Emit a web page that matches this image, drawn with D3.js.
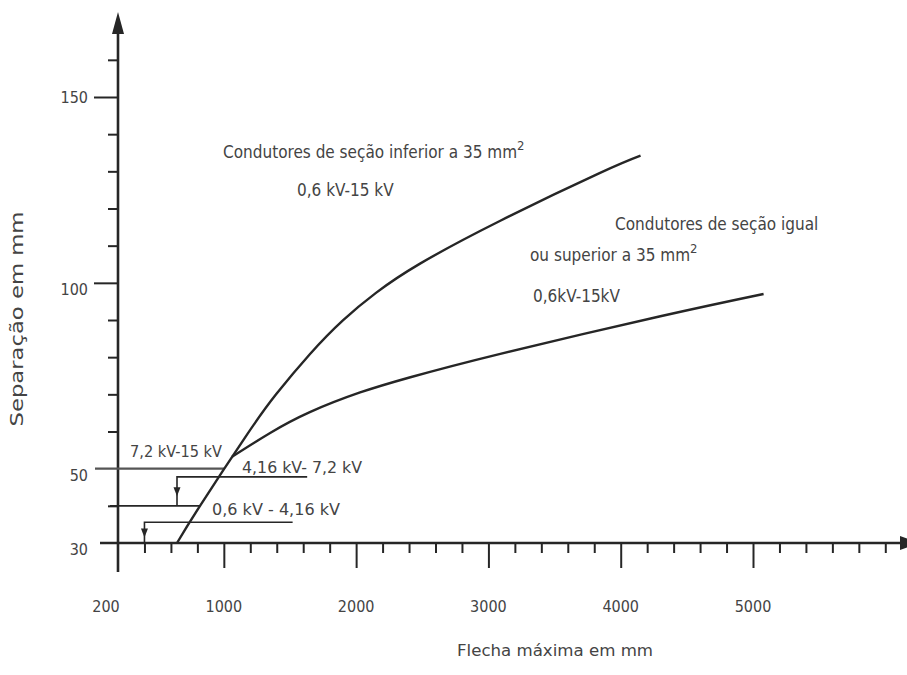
<!DOCTYPE html>
<html>
<head>
<meta charset="utf-8">
<script src="https://cdn.jsdelivr.net/npm/d3@7"></script>
<style>
body { margin: 0; background: #fff; }
svg text { font-family: "DejaVu Sans Condensed", "DejaVu Sans", sans-serif; fill: #444; }
</style>
</head>
<body>
<svg id="chart" width="907" height="675"></svg>
<script>
/* Data */

// curve for conductors below 35 mm2 (flecha mm, separação mm)
const curve1X = [646, 820, 1170, 1395, 1650, 1900, 2150, 2480, 3090, 3840, 4150];
const curve1Y = [30, 40, 58.9, 70, 80.8, 89.9, 97.3, 105.1, 116.7, 129.5, 134.2];

// curve for conductors equal to or above 35 mm2
const curve2X = [1062, 1350, 1650, 2030, 2410, 3090, 4300, 5080];
const curve2Y = [53.2, 59.6, 65.2, 70.5, 74.6, 80.9, 91, 97];

const xLabelValues = [200, 1000, 2000, 3000, 4000, 5000];
const xLabelText = ["200", "1000", "2000", "3000", "4000", "5000"];
const xMajorTicks = [1000, 2000, 3000, 4000, 5000];
const xMinorTicks = [400, 600, 800, 1200, 1400, 1600, 1800, 2200, 2400, 2600, 2800,
    3200, 3400, 3600, 3800, 4200, 4400, 4600, 4800, 5200, 5400, 5600, 5800, 6000];

const yLabelValues = [150, 100, 50, 30];
const yMajorTicks = [100, 150];
const yMinorTicks = [40, 60, 70, 80, 90, 110, 120, 130, 140, 160];

const levelValues = [50, 40, 30];
const levelLabels = ["7,2 kV-15 kV", "4,16 kV- 7,2 kV", "0,6 kV - 4,16 kV"];

const INK = "#262626";

const svg = d3.select("#chart");
const x = d3.scaleLinear().domain([200, 5000]).range([118, 753]);
const y = d3.scaleLinear().domain([30, 150]).range([543, 97]);

//finds where the first curve crosses a given separação value
function xAtLevel(v) {
    for (let i = 1; i < curve1Y.length; i++) {
        if (curve1Y[i] >= v) {
            let t = (v - curve1Y[i-1]) / (curve1Y[i] - curve1Y[i-1]);
            return curve1X[i-1] + t * (curve1X[i] - curve1X[i-1]);
        }
    }
    return curve1X[curve1X.length - 1];
}

// ticks on the x axis, drawn downward
svg.append("g")
    .attr("transform", `translate(0,${y(30)})`)
    .call(d3.axisBottom(x).tickValues(xMinorTicks).tickSize(10).tickFormat(""))
    .call(g => g.select(".domain").remove());
svg.append("g")
    .attr("transform", `translate(0,${y(30)})`)
    .call(d3.axisBottom(x).tickValues(xMajorTicks).tickSize(25).tickFormat(""))
    .call(g => g.select(".domain").remove());

// ticks on the y axis
svg.append("g")
    .attr("transform", `translate(${x(200)},0)`)
    .call(d3.axisLeft(y).tickValues(yMinorTicks).tickSize(10).tickFormat(""))
    .call(g => g.select(".domain").remove());
svg.append("g")
    .attr("transform", `translate(${x(200)},0)`)
    .call(d3.axisLeft(y).tickValues(yMajorTicks).tickSize(24).tickFormat(""))
    .call(g => g.select(".domain").remove());

svg.selectAll(".tick line").attr("stroke", INK).attr("stroke-width", 2);

// axis lines with arrows
svg.append("line").attr("x1", 100).attr("x2", 905).attr("y1", y(30)).attr("y2", y(30))
    .attr("stroke", INK).attr("stroke-width", 2.6);
svg.append("path").attr("d", `M900,${y(30)-7}L920,${y(30)}L900,${y(30)+7}Z`).attr("fill", INK);

svg.append("line").attr("x1", x(200)).attr("x2", x(200)).attr("y1", 572).attr("y2", 28)
    .attr("stroke", INK).attr("stroke-width", 2.6);
svg.append("path").attr("d", `M${x(200)-6},34L${x(200)},12L${x(200)+6},34Z`).attr("fill", INK);

// tick labels
svg.append("g").selectAll("text")
    .data(xLabelValues)
    .enter()
    .append("text")
    .attr("x", (d, i) => x(d) + (i == 0 ? -12 : 0))
    .attr("y", 612)
    .attr("text-anchor", "middle")
    .style("font-size", "16px")
    .text((d, i) => xLabelText[i]);

svg.append("g").selectAll("text")
    .data(yLabelValues)
    .enter()
    .append("text")
    .attr("x", 88)
    .attr("y", d => y(d) + (d == 150 ? 6 : 12))
    .attr("text-anchor", "end")
    .style("font-size", "16px")
    .text(d => d);

// axis titles
svg.append("text")
    .attr("x", 555).attr("y", 656)
    .attr("text-anchor", "middle")
    .attr("textLength", 196)
    .attr("lengthAdjust", "spacingAndGlyphs")
    .style("font-size", "16px")
    .text("Flecha máxima em mm");

svg.append("text")
    .attr("transform", "translate(23,319) rotate(-90)")
    .attr("text-anchor", "middle")
    .attr("textLength", 215)
    .attr("lengthAdjust", "spacingAndGlyphs")
    .style("font-size", "17px")
    .text("Separação em  mm");

// voltage level lines
svg.append("line")
    .attr("x1", 95).attr("x2", x(xAtLevel(levelValues[0])))
    .attr("y1", y(levelValues[0])).attr("y2", y(levelValues[0]))
    .attr("stroke", "#555").attr("stroke-width", 2.4);
svg.append("line")
    .attr("x1", 110).attr("x2", x(xAtLevel(levelValues[1])))
    .attr("y1", y(levelValues[1])).attr("y2", y(levelValues[1]))
    .attr("stroke", INK).attr("stroke-width", 1.6);

// brackets with small arrows pointing down to each level
const brackets = [
    {top: 47.8, bottom: levelValues[1], from: curve1X[0], to: 1630},
    {top: 35.6, bottom: levelValues[2], from: 400, to: 1520}
];
brackets.forEach(b => {
    svg.append("path")
        .attr("d", `M${x(b.to)},${y(b.top)}H${x(b.from)}V${y(b.bottom)}`)
        .attr("fill", "none").attr("stroke", INK).attr("stroke-width", 1.6);
    let mid = (y(b.top) + y(b.bottom)) / 2;
    svg.append("path")
        .attr("d", `M${x(b.from)-3.5},${mid-4}L${x(b.from)+3.5},${mid-4}L${x(b.from)},${mid+5}Z`)
        .attr("fill", INK);
});

function levelText(px, py, w, s) {
    svg.append("text").attr("x", px).attr("y", py)
        .style("font-size", "15px")
        .attr("textLength", w).attr("lengthAdjust", "spacingAndGlyphs")
        .text(s);
}
levelText(130, 457, 92, levelLabels[0]);
levelText(242, 473, 120, levelLabels[1]);
levelText(212, 515, 128, levelLabels[2]);

// the two curves
const line = d3.line().x(d => x(d[0])).y(d => y(d[1])).curve(d3.curveNatural);
[[curve1X, curve1Y], [curve2X, curve2Y]].forEach(c => {
    svg.append("path")
        .datum(c[0].map((v, i) => [v, c[1][i]]))
        .attr("d", line)
        .attr("fill", "none")
        .attr("stroke", INK)
        .attr("stroke-width", 2.4);
});

// curve labels
function label(px, py, parts, size) {
    let t = svg.append("text").attr("x", px).attr("y", py).style("font-size", size + "px");
    parts.forEach(p => {
        if (p.sup) {
            t.append("tspan").attr("dy", -8).style("font-size", (size - 4) + "px").text(p.text);
        } else {
            t.append("tspan").text(p.text);
        }
    });
    return t;
}
label(223, 158, [{text: "Condutores de seção inferior a 35 mm"}, {text: "2", sup: true}], 17);
label(297, 196, [{text: "0,6 kV-15 kV"}], 17);
label(615, 230, [{text: "Condutores de seção igual"}], 17);
label(530, 261, [{text: "ou superior a 35 mm"}, {text: "2", sup: true}], 17);
label(533, 302, [{text: "0,6kV-15kV"}], 17);
</script>
</body>
</html>
